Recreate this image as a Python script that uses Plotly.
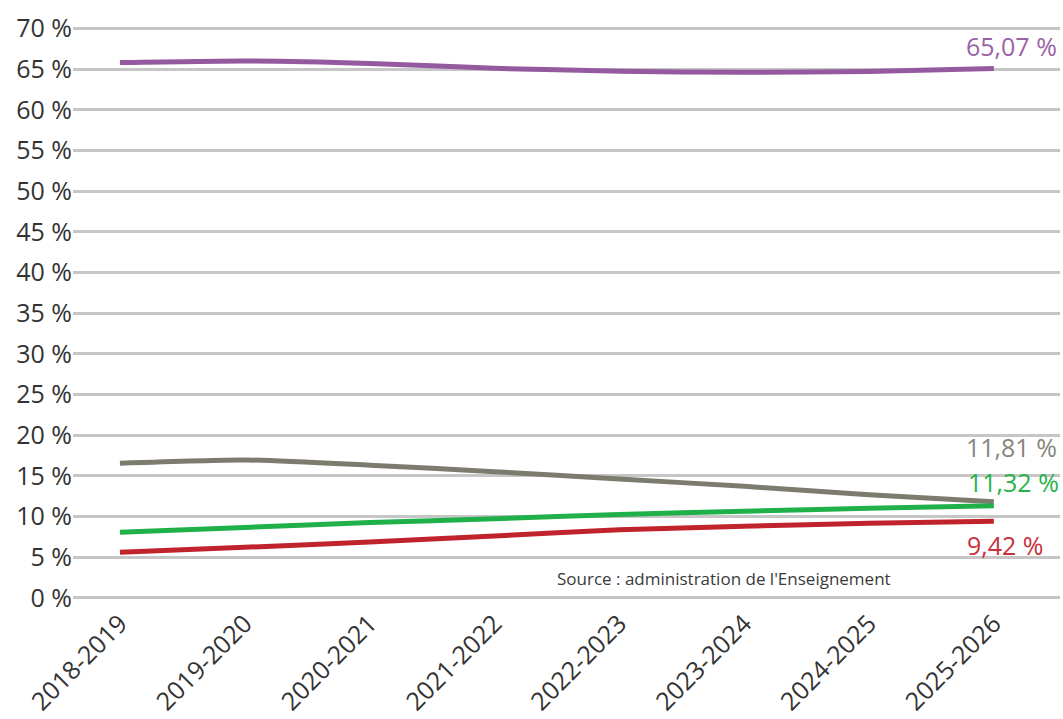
import plotly.graph_objects as go

# School years on the x axis
years = ["2018-2019", "2019-2020", "2020-2021", "2021-2022",
         "2022-2023", "2023-2024", "2024-2025", "2025-2026"]

# Share of pupils per series (%)
purple_vals = [65.8, 66.0, 65.7, 65.1, 64.75, 64.6, 64.7, 65.07]
gray_vals = [16.55, 16.95, 16.3, 15.5, 14.6, 13.7, 12.65, 11.81]
green_vals = [8.05, 8.65, 9.25, 9.7, 10.25, 10.65, 11.0, 11.32]
red_vals = [5.6, 6.2, 6.85, 7.6, 8.35, 8.8, 9.15, 9.42]

# End-of-line labels
purple_label = "65,07 %"
gray_label = "11,81 %"
green_label = "11,32 %"
red_label = "9,42 %"

y_ticks = [0, 5, 10, 15, 20, 25, 30, 35, 40, 45, 50, 55, 60, 65, 70]
y_tick_labels = [f"{v} %" for v in y_ticks]

source_text = "Source : administration de l'Enseignement"

FONT = "Open Sans"
TICK_COLOR = "#333333"

series = [
    (purple_vals, "#95599f", purple_label, "#9a62a5", 65, 23),
    (gray_vals, "#7c7b6e", gray_label, "#86867c", 65, 55),
    (green_vals, "#1fb04a", green_label, "#27b24a", 67, 24),
    (red_vals, "#c0232b", red_label, "#c8313a", 52, -24),
]

fig = go.Figure()
annotations = []
for vals, color, label, label_color, dx, dy in series:
    fig.add_trace(go.Scatter(
        x=years, y=vals, mode="lines",
        line=dict(color=color, width=5, shape="spline", smoothing=0.6),
        showlegend=False, hoverinfo="skip",
    ))
    annotations.append(dict(
        x=years[-1], y=vals[-1], xref="x", yref="y",
        text=label, showarrow=False, xanchor="right", yanchor="middle",
        xshift=dx, yshift=dy,
        font=dict(family=FONT, size=25, color=label_color),
    ))

annotations.append(dict(
    x=0.488, y=0.04, xref="paper", yref="paper",
    text=source_text, showarrow=False, xanchor="left", yanchor="middle",
    font=dict(family=FONT, size=17, color="#3a3a3a"),
))

fig.update_layout(
    width=1063, height=719,
    margin=dict(l=73, r=3, t=26, b=118),
    paper_bgcolor="white", plot_bgcolor="white",
    annotations=annotations,
    xaxis=dict(
        type="category", range=[-0.376, 7.53],
        showgrid=False, zeroline=False, showline=False,
        tickangle=-45, ticks="",
        ticklabelstandoff=2, automargin=False,
        tickfont=dict(family=FONT, size=25, color=TICK_COLOR),
    ),
    yaxis=dict(
        range=[-0.4, 70.3],
        tickmode="array", tickvals=y_ticks, ticktext=y_tick_labels,
        showgrid=True, gridcolor="#c6c6c6", gridwidth=2.5,
        zeroline=False, showline=False, ticks="",
        ticklabelstandoff=0, automargin=False,
        tickfont=dict(family=FONT, size=25, color=TICK_COLOR),
    ),
)

fig.write_html("out.html")
